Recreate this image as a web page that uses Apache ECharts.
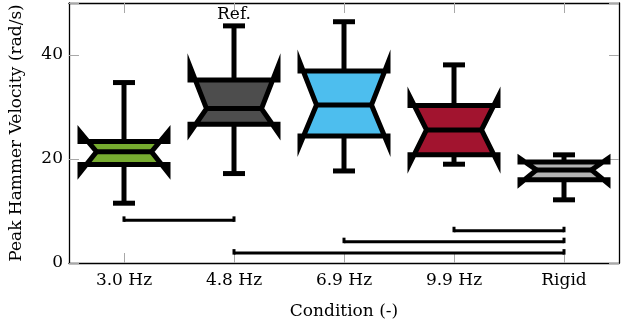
<!DOCTYPE html>
<html><head><meta charset="utf-8">
<script src="https://cdn.jsdelivr.net/npm/echarts@6/dist/echarts.min.js"></script>
<style>html,body{margin:0;padding:0;background:#fff}#c{width:622px;height:328px}</style>
</head><body><div id="c"></div>
<script>
const categories = ['3.0 Hz', '4.8 Hz', '6.9 Hz', '9.9 Hz', 'Rigid'];
const whiskerLow  = [11.5, 17.2, 17.7, 19.0, 12.15];
const quartile1   = [18.95, 26.7, 24.4, 20.8, 16.0];
const median      = [21.4, 29.7, 30.4, 25.6, 17.9];
const quartile3   = [23.35, 35.2, 36.9, 30.3, 19.4];
const whiskerHigh = [34.7, 45.6, 46.4, 38.1, 20.8];
const notchLow    = [17.4, 25.1, 22.8, 19.2, 15.3];
const notchHigh   = [25.2, 37.8, 38.5, 31.9, 20.1];
const boxNotes    = ['', 'Ref.', '', '', ''];
const boxColors   = ['#77AC30', '#4D4D4D', '#4DBEEE', '#A2142F', '#B3B3B3'];
const sigFrom  = [0, 1, 2, 3];
const sigTo    = [1, 4, 4, 4];
const sigLevel = [8.2, 1.9, 4.1, 6.2];
const yTickValues = [0, 20, 40];

const FONT = 'DejaVu Serif';
const boxData = categories.map((c, i) => [i, whiskerLow[i], quartile1[i], median[i], quartile3[i], whiskerHigh[i], notchLow[i], notchHigh[i]]);
const sigData = sigFrom.map((f, i) => [f, sigTo[i], sigLevel[i]]);

function renderBox(params, api) {
  const i = api.value(0);
  const band = api.size([1, 0])[0];
  const hw = band * 0.4, nw = band * 0.25, capw = 11;
  const P = k => api.coord([i, api.value(k)]);
  const cx = P(3)[0];
  const yWL = P(1)[1], yQ1 = P(2)[1], yMed = P(3)[1], yQ3 = P(4)[1], yWH = P(5)[1], yNL = P(6)[1], yNH = P(7)[1];
  const L = cx - hw, R = cx + hw, Ln = cx - nw, Rn = cx + nw;
  const lw = 5;
  const ln = {stroke: '#000', lineWidth: lw, lineCap: 'butt'};
  const children = [
    {type: 'line', shape: {x1: cx, y1: yQ3, x2: cx, y2: yWH}, style: ln},
    {type: 'line', shape: {x1: cx, y1: yQ1, x2: cx, y2: yWL}, style: ln},
    {type: 'line', shape: {x1: cx - capw, y1: yWH, x2: cx + capw, y2: yWH}, style: ln},
    {type: 'line', shape: {x1: cx - capw, y1: yWL, x2: cx + capw, y2: yWL}, style: ln},
    {type: 'polygon', shape: {points: [
      [L, yQ1], [L, yNL], [Ln, yMed], [L, yNH], [L, yQ3],
      [R, yQ3], [R, yNH], [Rn, yMed], [R, yNL], [R, yQ1]
    ]}, style: {fill: boxColors[i], stroke: '#000', lineWidth: lw, lineJoin: 'miter', miterLimit: 10}},
    {type: 'line', shape: {x1: Ln, y1: yMed, x2: Rn, y2: yMed}, style: ln}
  ];
  if (boxNotes[i]) {
    children.push({type: 'text', style: {text: boxNotes[i], x: cx, y: yWH - 3, align: 'center', verticalAlign: 'bottom', fontFamily: FONT, fontSize: 17, fill: '#000'}});
  }
  return {type: 'group', children};
}

function renderSig(params, api) {
  const a = api.coord([api.value(0), api.value(2)]);
  const b = api.coord([api.value(1), api.value(2)]);
  const st = {stroke: '#000', lineWidth: 3, lineCap: 'butt'};
  return {type: 'group', children: [
    {type: 'line', shape: {x1: a[0], y1: a[1], x2: b[0], y2: b[1]}, style: st},
    {type: 'line', shape: {x1: a[0], y1: a[1] - 4, x2: a[0], y2: a[1] + 1.5}, style: st},
    {type: 'line', shape: {x1: b[0], y1: b[1] - 4, x2: b[0], y2: b[1] + 1.5}, style: st}
  ]};
}

const chart = echarts.init(document.getElementById('c'), null, {renderer: 'canvas'});
const tickStyle = {show: true, inside: true, length: 10, lineStyle: {color: '#a8a8a8', width: 1}};
const axisLn = {show: true, onZero: false, lineStyle: {color: '#000', width: 1.3}};
chart.setOption({
  animation: false,
  textStyle: {fontFamily: FONT},
  grid: {left: 68, right: 3, top: 3, bottom: 65, containLabel: false},
  xAxis: [
    {type: 'category', data: categories, position: 'bottom', axisLine: axisLn,
     axisTick: Object.assign({alignWithLabel: true}, tickStyle),
     axisLabel: {color: '#000', fontSize: 17, fontFamily: FONT, margin: 9},
     name: 'Condition (-)', nameLocation: 'middle', nameGap: 40,
     nameTextStyle: {color: '#000', fontSize: 17, fontFamily: FONT},
     splitLine: {show: false}},
    {type: 'category', data: categories, position: 'top', axisLine: axisLn,
     axisTick: Object.assign({alignWithLabel: true}, tickStyle),
     axisLabel: {show: false}, splitLine: {show: false}}
  ],
  yAxis: [
    {type: 'value', min: 0, max: 50, interval: 20, position: 'left', axisLine: axisLn,
     axisTick: tickStyle,
     axisLabel: {color: '#000', fontSize: 17, fontFamily: FONT, margin: 6,
       formatter: v => yTickValues.indexOf(v) >= 0 ? String(v) : ''},
     name: 'Peak Hammer Velocity (rad/s)', nameLocation: 'middle', nameGap: 44,
     nameTextStyle: {color: '#000', fontSize: 17, fontFamily: FONT},
     splitLine: {show: false}},
    {type: 'value', min: 0, max: 50, interval: 20, position: 'right', axisLine: axisLn,
     axisTick: tickStyle, axisLabel: {show: false}, splitLine: {show: false}}
  ],
  series: [
    {type: 'custom', renderItem: renderSig, data: sigData, encode: {x: [0, 1], y: 2}, z: 3},
    {type: 'custom', renderItem: renderBox, data: boxData, encode: {x: 0, y: [1, 2, 3, 4, 5, 6, 7]}, z: 4, clip: false}
  ]
});
</script></body></html>
